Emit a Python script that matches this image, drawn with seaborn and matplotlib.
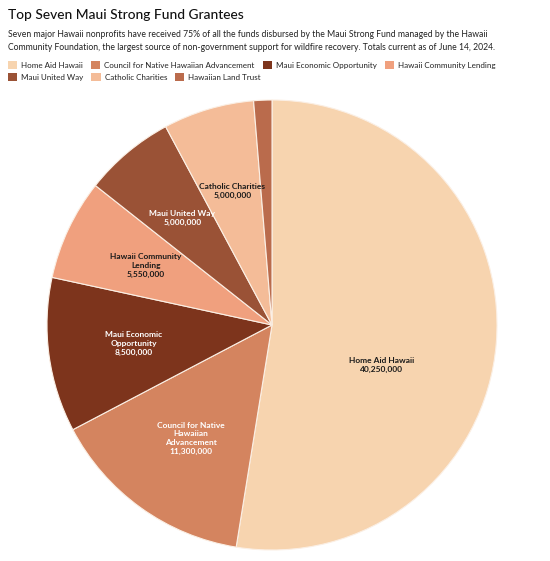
import numpy as np
import matplotlib
matplotlib.use("Agg")
import matplotlib.pyplot as plt
from matplotlib.patches import Patch
import seaborn as sns

# ---- data ----
grantees = ["Home Aid Hawaii", "Council for Native Hawaiian Advancement",
            "Maui Economic Opportunity", "Hawaii Community Lending",
            "Maui United Way", "Catholic Charities", "Hawaiian Land Trust"]
slice_labels = ["Home Aid Hawaii", "Council for Native\nHawaiian\nAdvancement",
                "Maui Economic\nOpportunity", "Hawaii Community\nLending",
                "Maui United Way", "Catholic Charities", ""]
amounts = [40250000, 11300000, 8500000, 5550000, 5000000, 5000000, 1000000]
colors = ["#F7D4AF", "#D4845F", "#7D341C", "#F0A07E", "#9A5236", "#F4BC98", "#BA6B4C"]
text_colors = ["#1a1a1a", "white", "white", "#1a1a1a", "white", "#1a1a1a", "white"]

title = "Top Seven Maui Strong Fund Grantees"
subtitle = ("Seven major Hawaii nonprofits have received 75% of all the funds disbursed by the Maui Strong Fund managed by the Hawaii\n"
            "Community Foundation, the largest source of non-government support for wildfire recovery. Totals current as of June 14, 2024.")

sns.set_theme(style="white")
plt.rcParams["font.family"] = ["Lato", "DejaVu Sans"]
palette = sns.color_palette(colors)

W, H = 550, 561
fig = plt.figure(figsize=(W / 100, H / 100), dpi=100)
fig.patch.set_facecolor("white")

# pie axes: center (272, 325) px, radius 225 px
cx, cy, r = 272, 325, 225
ax = fig.add_axes([(cx - r) / W, (H - cy - r) / H, 2 * r / W, 2 * r / H])
wedges, _ = ax.pie(amounts, colors=palette, startangle=90, counterclock=False,
                   wedgeprops=dict(edgecolor="#fbefe4", linewidth=0.8))
ax.set_xlim(-1, 1)
ax.set_ylim(-1, 1)
ax.set_aspect("equal")
ax.axis("off")

for i, w in enumerate(wedges):
    if not slice_labels[i]:
        continue
    ang = np.deg2rad((w.theta1 + w.theta2) / 2)
    dist = 0.62
    if i == 0:
        ang = np.deg2rad(-20)
        dist = 0.52
    txt = f"{slice_labels[i]}\n{amounts[i]:,}"
    ax.text(dist * np.cos(ang), dist * np.sin(ang), txt, ha="center", va="center",
            fontsize=6.0, fontweight="bold", color=text_colors[i], linespacing=1.3)

# title & subtitle
fig.text(8 / W, 1 - 15 / H, title, fontsize=9.9, fontweight="medium",
         color="#111111", ha="left", va="center")
fig.text(8 / W, 1 - 41 / H, subtitle, fontsize=6.25, color="#222222",
         ha="left", va="center", linespacing=1.45)

# legend in two flowing rows
handles = [Patch(facecolor=c, edgecolor="none") for c in palette]
leg_kw = dict(frameon=False, fontsize=5.75, handlelength=1.15, handleheight=1.15,
              handletextpad=0.5, columnspacing=1.0, borderaxespad=0, borderpad=0,
              loc="center left", labelcolor="#222222")
fig.legend(handles[:4], grantees[:4], ncol=4,
           bbox_to_anchor=(8 / W, 1 - 65 / H), **leg_kw)
fig.legend(handles[4:], grantees[4:], ncol=3,
           bbox_to_anchor=(8 / W, 1 - 77 / H), **leg_kw)

fig.savefig("out.png", dpi=100, facecolor="white")
